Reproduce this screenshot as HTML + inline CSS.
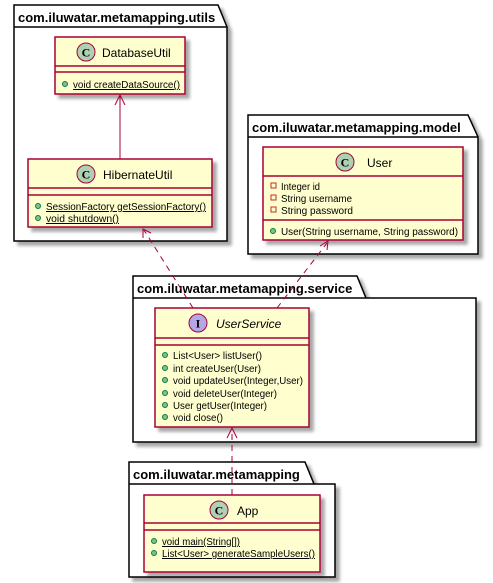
<!DOCTYPE html>
<html><head><meta charset="utf-8"><style>
body{margin:0;background:#fff;}
svg{display:block;font-family:"Liberation Sans",sans-serif;}
.pk{fill:#fff;stroke:#000;stroke-width:1.5;}
.cl{fill:#FEFECE;stroke:#A80036;stroke-width:1.5;}
.ln{stroke:#A80036;stroke-width:1.5;}
.pt{font-weight:bold;font-size:13px;}
.cn{font-size:12px;}
.m{font-size:10px;}
.dot{fill:#84BE84;stroke:#038048;stroke-width:1;}
.sq{fill:none;stroke:#C82930;stroke-width:1;}
.ar{stroke:#A80036;stroke-width:1;fill:none;}
</style></head><body>
<svg width="493" height="583" viewBox="0 0 493 583">
<defs><filter id="sh" x="-10%" y="-10%" width="130%" height="130%"><feDropShadow dx="4" dy="4" stdDeviation="1.6" flood-color="#000" flood-opacity="0.35"/></filter></defs>

<g filter="url(#sh)"><path class="pk" d="M14,5 H218 L227,27 V241 H14 Z"/></g>
<line x1="14" y1="27" x2="227" y2="27" stroke="#000" stroke-width="1.5"/>
<text x="18" y="22" class="pt">com.iluwatar.metamapping.utils</text>

<g filter="url(#sh)"><path class="pk" d="M248,115 H468 L478,137 V254 H248 Z"/></g>
<line x1="248" y1="137" x2="478" y2="137" stroke="#000" stroke-width="1.5"/>
<text x="252" y="132" class="pt">com.iluwatar.metamapping.model</text>

<g filter="url(#sh)"><path class="pk" d="M133,276 H357 L366,298 H476 V442 H133 Z"/></g>
<line x1="133" y1="298" x2="366" y2="298" stroke="#000" stroke-width="1.5"/>
<text x="137" y="293" class="pt">com.iluwatar.metamapping.service</text>

<g filter="url(#sh)"><path class="pk" d="M129,462 H305 L314,484 H335 V577 H129 Z"/></g>
<line x1="129" y1="484" x2="314" y2="484" stroke="#000" stroke-width="1.5"/>
<text x="133" y="479" class="pt">com.iluwatar.metamapping</text>

<!-- DatabaseUtil -->
<rect class="cl" x="55" y="37" width="130" height="57" filter="url(#sh)"/>
<line class="ln" x1="55" y1="66" x2="185" y2="66"/><line class="ln" x1="55" y1="72" x2="185" y2="72"/>
<circle cx="86" cy="52" r="9" fill="#ADD1B2" stroke="#A80036" stroke-width="1"/>
<text x="86" y="56.5" text-anchor="middle" font-weight="bold" font-size="12" font-family="Liberation Serif">C</text>
<text x="102" y="57" class="cn">DatabaseUtil</text>
<circle class="dot" cx="65" cy="84" r="2.5"/>
<text x="73" y="88" class="m" text-decoration="underline" textLength="107" lengthAdjust="spacingAndGlyphs">void createDataSource()</text>

<!-- HibernateUtil -->
<rect class="cl" x="28" y="159" width="184" height="68" filter="url(#sh)"/>
<line class="ln" x1="28" y1="188" x2="212" y2="188"/><line class="ln" x1="28" y1="195" x2="212" y2="195"/>
<circle cx="86" cy="174" r="9" fill="#ADD1B2" stroke="#A80036" stroke-width="1"/>
<text x="86" y="178.5" text-anchor="middle" font-weight="bold" font-size="12" font-family="Liberation Serif">C</text>
<text x="103" y="179" class="cn">HibernateUtil</text>
<circle class="dot" cx="38" cy="206" r="2.5"/>
<text x="46" y="210" class="m" text-decoration="underline" textLength="160" lengthAdjust="spacingAndGlyphs">SessionFactory getSessionFactory()</text>
<circle class="dot" cx="38" cy="218" r="2.5"/>
<text x="46" y="222" class="m" text-decoration="underline" textLength="73" lengthAdjust="spacingAndGlyphs">void shutdown()</text>

<!-- User -->
<rect class="cl" x="263" y="147" width="200" height="93" filter="url(#sh)"/>
<line class="ln" x1="263" y1="176" x2="463" y2="176"/><line class="ln" x1="263" y1="220" x2="463" y2="220"/>
<circle cx="345" cy="162" r="9" fill="#ADD1B2" stroke="#A80036" stroke-width="1"/>
<text x="345" y="166.5" text-anchor="middle" font-weight="bold" font-size="12" font-family="Liberation Serif">C</text>
<text x="367" y="167" class="cn">User</text>
<rect class="sq" x="271" y="183" width="5" height="5"/><text x="281" y="190" class="m" textLength="39" lengthAdjust="spacingAndGlyphs">Integer id</text>
<rect class="sq" x="271" y="195" width="5" height="5"/><text x="281" y="202" class="m" textLength="71" lengthAdjust="spacingAndGlyphs">String username</text>
<rect class="sq" x="271" y="207" width="5" height="5"/><text x="281" y="214" class="m" textLength="72" lengthAdjust="spacingAndGlyphs">String password</text>
<circle class="dot" cx="273" cy="231" r="2.5"/>
<text x="281" y="235" class="m" textLength="177" lengthAdjust="spacingAndGlyphs">User(String username, String password)</text>

<!-- UserService -->
<rect class="cl" x="155" y="308" width="154" height="119" filter="url(#sh)"/>
<line class="ln" x1="155" y1="338" x2="309" y2="338"/><line class="ln" x1="155" y1="345" x2="309" y2="345"/>
<circle cx="198" cy="323" r="9" fill="#B4A7E5" stroke="#A80036" stroke-width="1"/>
<text x="198" y="327.5" text-anchor="middle" font-weight="bold" font-size="12" font-family="Liberation Serif">I</text>
<text x="216" y="328" class="cn" font-style="italic">UserService</text>
<circle class="dot" cx="165" cy="355" r="2.5"/><text x="173" y="359" class="m" textLength="89" lengthAdjust="spacingAndGlyphs">List&lt;User&gt; listUser()</text>
<circle class="dot" cx="165" cy="368" r="2.5"/><text x="173" y="372" class="m" textLength="88" lengthAdjust="spacingAndGlyphs">int createUser(User)</text>
<circle class="dot" cx="165" cy="380" r="2.5"/><text x="173" y="384" class="m" textLength="130" lengthAdjust="spacingAndGlyphs">void updateUser(Integer,User)</text>
<circle class="dot" cx="165" cy="393" r="2.5"/><text x="173" y="397" class="m" textLength="104" lengthAdjust="spacingAndGlyphs">void deleteUser(Integer)</text>
<circle class="dot" cx="165" cy="405" r="2.5"/><text x="173" y="409" class="m" textLength="94" lengthAdjust="spacingAndGlyphs">User getUser(Integer)</text>
<circle class="dot" cx="165" cy="417" r="2.5"/><text x="173" y="421" class="m" textLength="50" lengthAdjust="spacingAndGlyphs">void close()</text>

<!-- App -->
<rect class="cl" x="144" y="495" width="176" height="77" filter="url(#sh)"/>
<line class="ln" x1="144" y1="523" x2="320" y2="523"/><line class="ln" x1="144" y1="530" x2="320" y2="530"/>
<circle cx="219" cy="510" r="9" fill="#ADD1B2" stroke="#A80036" stroke-width="1"/>
<text x="219" y="514.5" text-anchor="middle" font-weight="bold" font-size="12" font-family="Liberation Serif">C</text>
<text x="237" y="515" class="cn">App</text>
<circle class="dot" cx="154" cy="541" r="2.5"/><text x="162" y="545" class="m" text-decoration="underline" textLength="78" lengthAdjust="spacingAndGlyphs">void main(String[])</text>
<circle class="dot" cx="154" cy="553" r="2.5"/><text x="162" y="557" class="m" text-decoration="underline" textLength="153" lengthAdjust="spacingAndGlyphs">List&lt;User&gt; generateSampleUsers()</text>

<!-- connectors -->
<line class="ar" x1="120" y1="159" x2="120" y2="96"/>
<path class="ar" d="M115,105 L120,95 L125,105"/>
<line class="ar" x1="193" y1="308" x2="144" y2="230" stroke-dasharray="6,5"/>
<path class="ar" d="M143,238 L143,229 L151,233"/>
<line class="ar" x1="277" y1="308" x2="327" y2="243" stroke-dasharray="6,5"/>
<path class="ar" d="M320,246 L328,241 L327,250"/>
<line class="ar" x1="232" y1="495" x2="232" y2="430" stroke-dasharray="6,5"/>
<path class="ar" d="M227,438 L232,428 L237,438"/>
</svg>
</body></html>
